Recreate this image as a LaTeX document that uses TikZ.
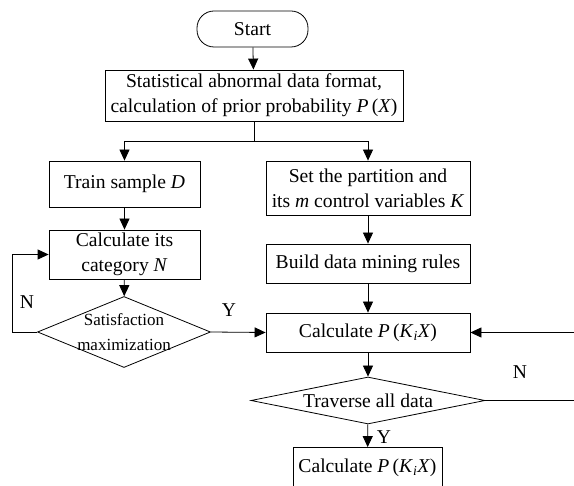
\documentclass[tikz,border=0pt]{standalone}
\usepackage{fontspec}
\setmainfont{Liberation Serif}
\usetikzlibrary{arrows.meta, shapes.geometric, positioning}

\begin{document}
\begin{tikzpicture}[x=1pt, y=-1pt, line width=0.8pt,
    >={Triangle[length=11pt, width=10pt]},
    font=\fontsize{19.6}{25}\selectfont,
    proc/.style={draw, rectangle, align=center, inner sep=0pt},
    term/.style={draw, rectangle, rounded corners=17pt, inner sep=0pt,
        minimum width=111pt, minimum height=36pt},
    dec/.style={draw, diamond, inner sep=0pt}]
    % Flowchart of the data mining procedure
    \useasboundingbox (0,0) rectangle (574,486);

        % Left column
        \node[term] (start) at (252.5,29) {Start};
        \node[proc, minimum width=298pt, minimum height=51pt] (stat) at (254,95.5)
            {Statistical abnormal data format,\\calculation of prior probability \textit{P}\,(\textit{X})};
        \node[proc, minimum width=151pt, minimum height=46pt] (train) at (124.5,184)
            {Train sample \textit{D}};
        \node[proc, minimum width=151pt, minimum height=49pt] (calcn) at (124.5,254.5)
            {Calculate its\\category \textit{N}};
        \node[dec, minimum width=173pt, minimum height=71pt] (sat) at (124,332) {};
        \node[font=\fontsize{17}{25}\selectfont, align=center] (sattext) at (sat)
            {Satisfaction\\maximization};

        % Right column
        \node[proc, minimum width=204pt, minimum height=54pt] (setk) at (368,188)
            {Set the partition and\\its \textit{m} control variables \textit{K}};
        \node[proc, minimum width=204pt, minimum height=39pt] (build) at (368,263.5)
            {Build data mining rules};
        \node[proc, minimum width=204pt, minimum height=39pt] (calcp) at (368,332.5)
            {Calculate \textit{P}\,(\textit{K}\textsubscript{\textit{i}}\textit{X})};
        \node[dec, minimum width=234pt, minimum height=47pt] (trav) at (368,400.5) {};
        \node (travtext) at (trav) {Traverse all data};
        \node[proc, minimum width=149pt, minimum height=40pt] (result) at (367.5,467.5)
            {Calculate \textit{P}\,(\textit{K}\textsubscript{\textit{i}}\textit{X})};

        % Loop ends at the right border
        \coordinate (loopin) at (576,332.5);
        \coordinate (loopout) at (576,400.5);

        % Arrows
        \draw[->] (start) -- (stat);
        \draw[->] (stat.south) -- ++(0,20) -| (train.north);
        \draw[->] (stat.south) -- ++(0,20) -| (setk.north);
        \draw[->] (train) -- (calcn);
        \draw[->] (calcn) -- (sat);
        \draw[->] (sat.west) -- ++(-25,0) |- (calcn.west);
        \draw[->] (sat.east) -- (calcp.west);
        \draw[->] (setk) -- (build);
        \draw[->] (build) -- (calcp);
        \draw[->] (calcp) -- (trav);
        \draw[->] (trav) -- (result);
        \draw (trav.east) -- (loopout);
        \draw[->] (loopin) -- (calcp.east);

        % Labels
        \node (ln) at (27,302) {N};
        \node (ly) at (229,310) {Y};
        \node (rn) at (520,372) {N};
        \node (ry) at (384,437) {Y};
\end{tikzpicture}
\end{document}
